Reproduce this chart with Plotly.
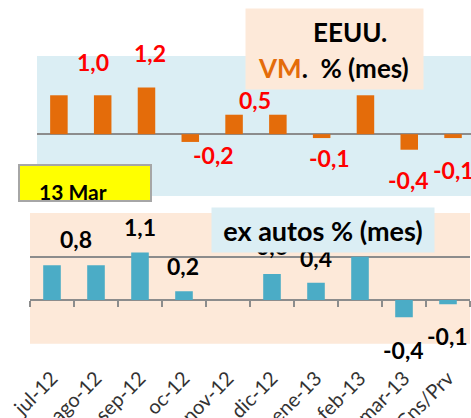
import plotly.graph_objects as go

categories = ["jul-12", "ago-12", "sep-12", "oc-12", "nov-12", "dic-12", "ene-13", "feb-13", "mar-13", "Cns/Prv"]
vm_total = [1.0, 1.0, 1.2, -0.2, 0.5, 0.5, -0.1, 1.0, -0.4, -0.1]
vm_total_labels = [None, "1,0", "1,2", "-0,2", "0,5", None, "-0,1", "1,0", "-0,4", "-0,1"]
vm_exautos = [0.8, 0.8, 1.1, 0.2, 0.0, 0.6, 0.4, 1.0, -0.4, -0.1]
vm_exautos_labels = [None, "0,8", "1,1", "0,2", None, "0,6", "0,4", "1,0", "-0,4", "-0,1"]

W, H = 471, 418
FONT = "Lato"
ORANGE = "#E46C0A"
BLUE = "#4BACC6"
GRID = "#8C8C8C"
LBLUE = "#DBEEF4"
PEACH = "#FDE9D9"

# label offsets (px) relative to bar end
top_off = [(0, 0), (-10, 33), (4, 35), (23, -13), (21, 15), (0, 0), (8, -20), (0, 22), (-1, -30), (0, -32)]
bot_off = [(0, 0), (-20, 26), (0, 25), (-1, 25), (0, 0), (0, 28), (0, 25), (0, 25), (-1, -33), (-1, -32)]

idx = list(range(len(categories)))

fig = go.Figure()
fig.add_trace(go.Bar(x=idx, y=vm_total, xaxis="x", yaxis="y", marker_color=ORANGE,
                     marker_line_width=0, width=0.4, hoverinfo="skip"))
fig.add_trace(go.Bar(x=idx, y=vm_exautos, xaxis="x2", yaxis="y2", marker_color=BLUE,
                     marker_line_width=0, width=0.4, hoverinfo="skip"))
fig.add_trace(go.Scatter(x=[0], y=[0], xaxis="x3", yaxis="y2", mode="markers",
                         marker_opacity=0, hoverinfo="skip", showlegend=False))

y1d = [1 - 196 / H, 1 - 56 / H]
y2d = [1 - 343.7 / H, 1 - 213 / H]
zero2 = y2d[0] + (y2d[1] - y2d[0]) * (1.01 / 3.02)

fig.update_layout(
    width=W, height=H, margin=dict(l=0, r=0, t=0, b=0, autoexpand=False),
    paper_bgcolor="white", plot_bgcolor="rgba(0,0,0,0)", showlegend=False,
    bargap=0.6,
    font=dict(family=FONT, color="#262626"),
    xaxis=dict(domain=[37 / W, 1], range=[-0.5, 9.41], anchor="y", showticklabels=False,
               showgrid=False, zeroline=False, ticks="", automargin=False),
    yaxis=dict(domain=y1d, range=[-1.59, 2.01], anchor="x", dtick=2, tick0=0,
               showgrid=True, gridcolor=GRID, gridwidth=2, zeroline=False,
               showticklabels=False, ticks="", automargin=False),
    xaxis2=dict(domain=[30 / W, 470 / W], range=[-0.5, 9.5], anchor="y2",
                tickmode="array", tickvals=idx, ticktext=categories, tickangle=-45,
                ticks="", showgrid=False, zeroline=False, ticklabelstandoff=18, automargin=False,
                tickfont=dict(family=FONT, size=20, color="#333333")),
    yaxis2=dict(domain=y2d, range=[-1.01, 2.01], anchor="x2", dtick=1, tick0=0,
                showgrid=True, gridcolor=GRID, gridwidth=2, zeroline=False,
                showticklabels=False, ticks="", automargin=False),
    xaxis3=dict(domain=[30 / W, 470 / W], range=[-0.5, 9.5], overlaying="x2", anchor="free",
                position=zero2, tickmode="array", tickvals=[i - 0.5 for i in range(11)],
                ticks="outside", ticklen=6, tickwidth=2, tickcolor=GRID, automargin=False,
                showticklabels=False, showgrid=False, zeroline=False, showline=False),
    shapes=[
        dict(type="rect", xref="x domain", yref="y domain", x0=0, x1=1, y0=0, y1=1,
             fillcolor=LBLUE, line_width=0, layer="below"),
        dict(type="rect", xref="x2 domain", yref="y2 domain", x0=0, x1=1, y0=0, y1=1,
             fillcolor=PEACH, line_width=0, layer="below"),
    ],
)

ann = []
for i, (v, t) in enumerate(zip(vm_total, vm_total_labels)):
    if t is None:
        continue
    dx, dy = top_off[i]
    ann.append(dict(xref="x", yref="y", x=i, y=v, text=f"<b>{t}</b>", showarrow=False,
                    xanchor="center", yanchor="middle", xshift=dx, yshift=dy,
                    font=dict(family=FONT, size=23, color="#FF0000")))
for i, (v, t) in enumerate(zip(vm_exautos, vm_exautos_labels)):
    if t is None:
        continue
    dx, dy = bot_off[i]
    ann.append(dict(xref="x2", yref="y2", x=i, y=v, text=f"<b>{t}</b>", showarrow=False,
                    xanchor="center", yanchor="middle", xshift=dx, yshift=dy,
                    font=dict(family=FONT, size=23, color="#000000")))

# boxes (drawn after labels so they cover them)
ann.append(dict(xref="paper", yref="paper", x=245 / W, y=1 - 8 / H, xanchor="left", yanchor="top",
                text=" ", showarrow=False, width=177, height=80, bgcolor=PEACH, borderpad=0))
ann.append(dict(xref="paper", yref="paper", x=350 / W, y=1 - 32 / H, xanchor="center", yanchor="middle",
                text="<b>EEUU.</b>", showarrow=False, font=dict(family=FONT, size=26, color="#000000")))
ann.append(dict(xref="paper", yref="paper", x=333 / W, y=1 - 68 / H, xanchor="center", yanchor="middle",
                text=f"<b><span style='color:{ORANGE}'>VM</span>.  % (mes)</b>", showarrow=False,
                font=dict(family=FONT, size=26, color="#000000")))
ann.append(dict(xref="paper", yref="paper", x=211 / W, y=1 - 207 / H, xanchor="left", yanchor="top",
                text="<b>ex autos % (mes)</b>", showarrow=False, width=222, height=44, bgcolor=LBLUE,
                borderpad=0, align="center", font=dict(family=FONT, size=27, color="#000000")))
ann.append(dict(xref="paper", yref="paper", x=18 / W, y=1 - 164 / H, xanchor="left", yanchor="top",
                text=" ", showarrow=False, width=130, height=34, bgcolor="#FFFF00",
                bordercolor="#A6A6A6", borderwidth=2, borderpad=0))
ann.append(dict(xref="paper", yref="paper", x=37 / W, y=1 - 191 / H, xanchor="left", yanchor="middle",
                text="<b>13 Mar</b>", showarrow=False,
                font=dict(family=FONT, size=21, color="#000000")))
fig.update_layout(annotations=ann)

fig.write_html("out.html", config={"displayModeBar": False},
               post_script="document.body.style.margin='0';")
